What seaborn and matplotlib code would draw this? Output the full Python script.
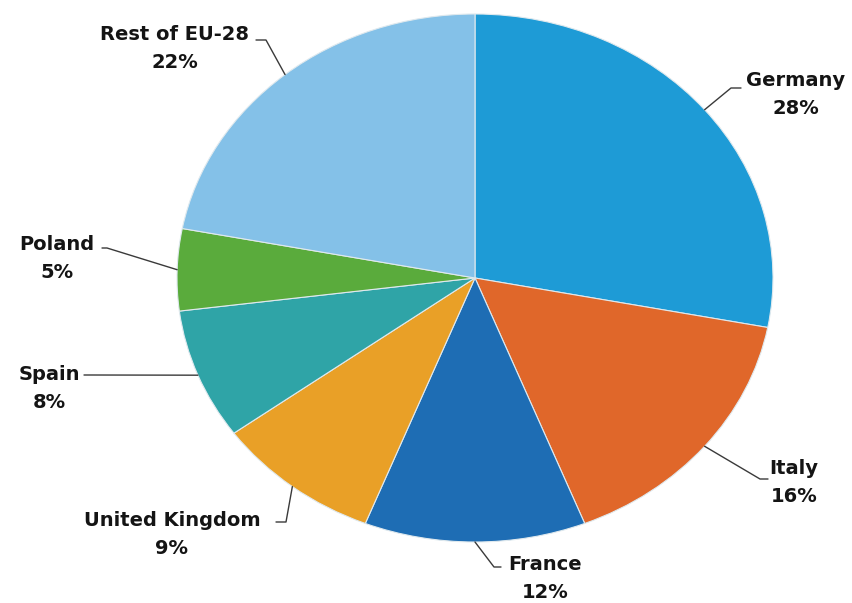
import numpy as np
import matplotlib
matplotlib.use("Agg")
import matplotlib.pyplot as plt
import seaborn as sns
from matplotlib.lines import Line2D

countries = ["Germany", "Italy", "France", "United Kingdom", "Spain", "Poland", "Rest of EU-28"]
shares = [28, 16, 12, 9, 8, 5, 22]
colors = ["#1e9bd6", "#e0672a", "#1e6db4", "#e9a027", "#2fa4a7", "#5aab3c", "#84c1e8"]

# label layout (image pixel coords, y down): text centre, elbow, end of leader
text_pos = [(796, 94), (794, 482), (545, 579), (172, 534), (49, 388), (57, 258), (175, 49)]
elbows = [(731, 88), (760, 479), (494, 567), (286, 522), (90, 375), (107, 248), (266, 40)]
ends = [(741, 88), (768, 479), (501, 567), (276, 522), (84, 375), (102, 248), (256, 40)]

sns.set_theme(style="white")
plt.rcParams["font.family"] = ["DejaVu Sans"]

W, H = 853, 603
fig = plt.figure(figsize=(W / 100, H / 100), dpi=100)
fig.patch.set_facecolor("white")
ax = fig.add_axes([177 / W, (H - 542) / H, 596 / W, 528 / H])

wedges, _ = ax.pie(shares, colors=colors, startangle=90, counterclock=False,
                   wedgeprops=dict(edgecolor="#dfe9ee", linewidth=0.8))
ax.set_aspect("auto")
ax.set_xlim(-1, 1)
ax.set_ylim(-1, 1)
ax.axis("off")

fig.canvas.draw()
for w, name, pct, tp, el, en in zip(wedges, countries, shares, text_pos, elbows, ends):
    mid = np.deg2rad((w.theta1 + w.theta2) / 2)
    ex, ey = ax.transData.transform((np.cos(mid), np.sin(mid)))
    xs = [ex, el[0], en[0]]
    ys = [ey, H - el[1], H - en[1]]
    fig.add_artist(Line2D(xs, ys, transform=None, color="#3a3a3a", lw=1.0))
    fig.text(tp[0] / W, (H - tp[1]) / H, f"{name}\n{pct}%", ha="center", va="center",
             fontsize=14, fontweight="bold", color="#141414", linespacing=1.6)

fig.savefig("out.png", dpi=100, facecolor="white")
